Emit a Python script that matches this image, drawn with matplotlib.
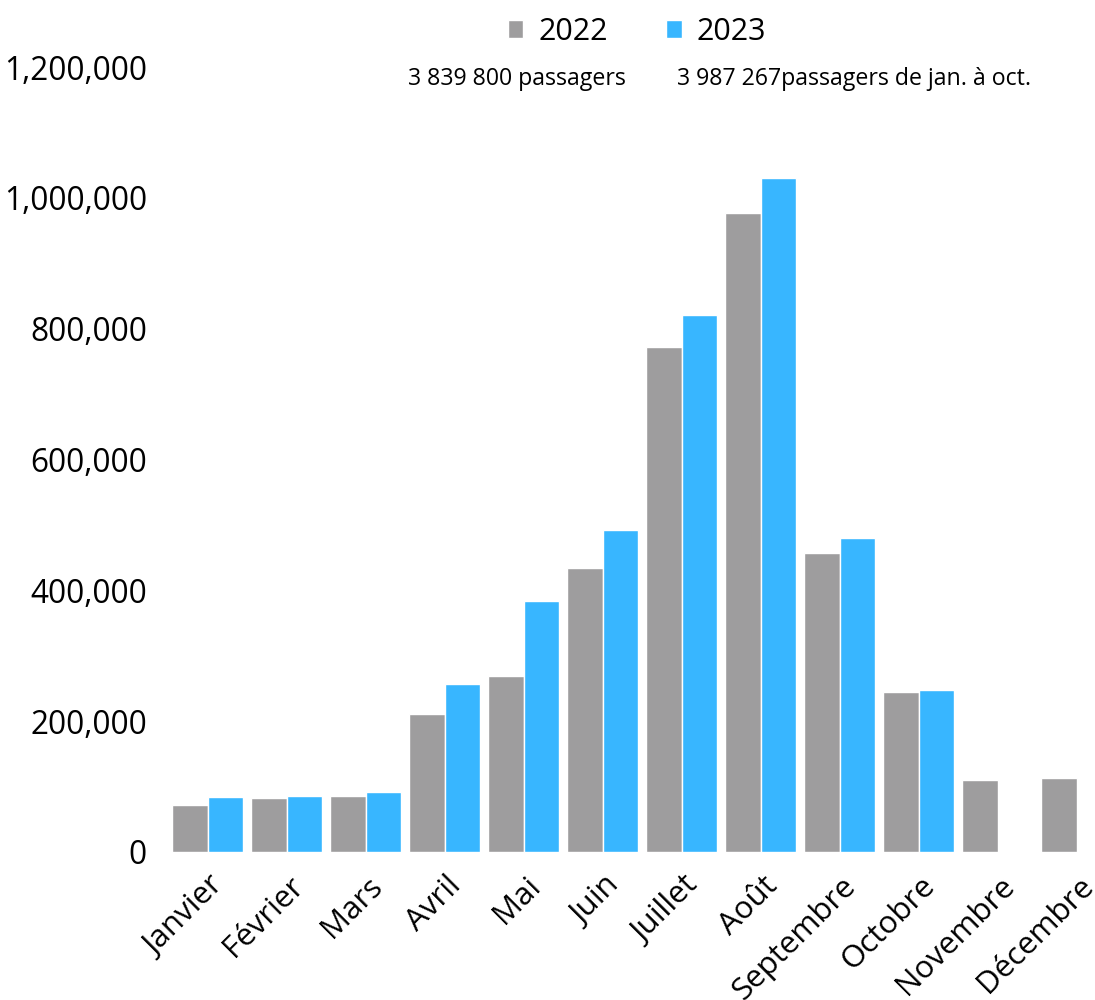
import numpy as np
import matplotlib.pyplot as plt
from matplotlib.ticker import FuncFormatter
import matplotlib.transforms as mtransforms

plt.rcParams.update({
    "font.family": ["Open Sans", "DejaVu Sans"],
})

GRAY = "#9e9d9e"
BLUE = "#38b6ff"

months = ["Janvier", "Février", "Mars", "Avril", "Mai", "Juin", "Juillet",
          "Août", "Septembre", "Octobre", "Novembre", "Décembre"]
pax_2022 = [72000, 82500, 85500, 211000, 269000, 434000, 772000,
            977000, 457000, 245000, 110000, 113000]
pax_2023 = [84000, 85500, 92000, 257000, 384000, 492000, 821000,
            1030500, 480000, 248000]
yticks = [0, 200000, 400000, 600000, 800000, 1000000, 1200000]
note_2022 = "3 839 800 passagers"
note_2023 = "3 987 267passagers de jan. à oct."

fig = plt.figure(figsize=(10.95, 10), dpi=100)
ax = fig.add_axes([165 / 1095, 0.148, 930 / 1095, 0.785])

x = np.arange(len(months))
w = 0.45
b1 = ax.bar(x - w / 2, pax_2022, w, color=GRAY, edgecolor="white", lw=1, label="2022")
b2 = ax.bar(x[:len(pax_2023)] + w / 2, pax_2023, w, color=BLUE, edgecolor="white", lw=1,
            label="2023")

ax.set_xlim(-0.54, 11.23)
ax.set_ylim(0, 1200000)
ax.set_yticks(yticks)
ax.yaxis.set_major_formatter(FuncFormatter(lambda v, p: f"{int(v):,}"))
ax.tick_params(axis="y", length=0, pad=13, labelsize=22.8)
ax.tick_params(axis="x", length=0, pad=4)
for s in ax.spines.values():
    s.set_visible(False)

ax.set_xticks(x)
ax.set_xticklabels(months, rotation=45, ha="right", va="center",
                   rotation_mode="anchor", fontsize=22.5)
offset = mtransforms.ScaledTranslation(12 / 100, -24 / 100, fig.dpi_scale_trans)
for lab in ax.get_xticklabels():
    lab.set_transform(lab.get_transform() + offset)

fig.legend(handles=[b1, b2], loc="center", bbox_to_anchor=(0.582, 0.968), ncol=2,
           frameon=False, fontsize=22, handlelength=0.5, handleheight=0.5,
           handletextpad=0.5, columnspacing=1.9)

fig.text(408 / 1095, 1 - 79 / 1000, note_2022, fontsize=16.7, va="center")
fig.text(677 / 1095, 1 - 79 / 1000, note_2023, fontsize=16.7, va="center")

fig.savefig("out.png", dpi=100)
